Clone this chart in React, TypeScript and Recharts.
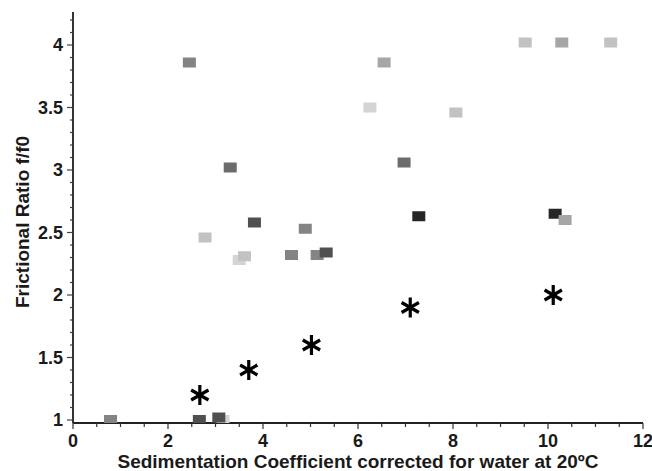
import React from "react";
import { ScatterChart, Scatter, XAxis, YAxis } from "recharts";

// f/f0 vs s20,w — squares grouped by shade, asterisks for the model series
const lightest = [
  { s: 6.25, f: 3.5 },
  { s: 3.5, f: 2.28 },
  { s: 3.16, f: 1.0 },
];
const medium = [
  { s: 2.45, f: 3.86 },
  { s: 4.89, f: 2.53 },
  { s: 4.6, f: 2.32 },
  { s: 5.14, f: 2.32 },
  { s: 0.79, f: 1.0 },
];
const mediumDark = [
  { s: 3.31, f: 3.02 },
  { s: 6.97, f: 3.06 },
];
const dark = [
  { s: 3.82, f: 2.58 },
  { s: 2.66, f: 1.0 },
  { s: 3.07, f: 1.02 },
  { s: 5.33, f: 2.34 },
];
const darkest = [
  { s: 7.28, f: 2.63 },
  { s: 10.15, f: 2.65 },
];
const mediumLight = [
  { s: 6.55, f: 3.86 },
  { s: 10.29, f: 4.02 },
  { s: 10.36, f: 2.6 },
];
const light = [
  { s: 9.52, f: 4.02 },
  { s: 11.32, f: 4.02 },
  { s: 8.06, f: 3.46 },
  { s: 3.61, f: 2.31 },
  { s: 2.78, f: 2.46 },
];
const stars = [
  { s: 2.67, f: 1.2 },
  { s: 3.7, f: 1.4 },
  { s: 5.02, f: 1.6 },
  { s: 7.1, f: 1.9 },
  { s: 10.11, f: 2.0 },
];

const xTicks = [
  0, 0.5, 1, 1.5, 2, 2.5, 3, 3.5, 4, 4.5, 5, 5.5, 6, 6.5, 7, 7.5, 8, 8.5, 9,
  9.5, 10, 10.5, 11, 11.5, 12,
];
const xMajor = [0, 2, 4, 6, 8, 10, 12];
const yTicks = [
  1.0, 1.1, 1.2, 1.3, 1.4, 1.5, 1.6, 1.7, 1.8, 1.9, 2.0, 2.1, 2.2, 2.3, 2.4,
  2.5, 2.6, 2.7, 2.8, 2.9, 3.0, 3.1, 3.2, 3.3, 3.4, 3.5, 3.6, 3.7, 3.8, 3.9,
  4.0, 4.1, 4.2,
];
const yMajor = [1, 1.5, 2, 2.5, 3, 3.5, 4];

const FONT = "'Liberation Sans', Arial, sans-serif";
const isMajor = (list: number[], v: number) =>
  list.some((m) => Math.abs(m - v) < 1e-6);

const XTick = (props: any) => {
  const { x, y, payload } = props;
  const major = isMajor(xMajor, payload.value);
  return (
    <g>
      <line x1={x} y1={y} x2={x} y2={y + (major ? 6 : 4)} stroke="#333" strokeWidth={1.2} />
      {major && (
        <text
          x={x}
          y={y + 18}
          textAnchor="middle"
          dominantBaseline="central"
          fontFamily={FONT}
          fontWeight="bold"
          fontSize={18}
          fill="#1a1a1a"
        >
          {payload.value}
        </text>
      )}
    </g>
  );
};

const YTick = (props: any) => {
  const { x, y, payload } = props;
  const major = isMajor(yMajor, payload.value);
  return (
    <g>
      <line x1={x} y1={y} x2={x - (major ? 6 : 3)} y2={y} stroke="#444" strokeWidth={1.2} />
      {major && (
        <text
          x={x - 10}
          y={y}
          textAnchor="end"
          dominantBaseline="central"
          fontFamily={FONT}
          fontWeight="bold"
          fontSize={18}
          fill="#1a1a1a"
        >
          {Number(payload.value.toFixed(1)) % 1 === 0
            ? Math.round(payload.value)
            : payload.value}
        </text>
      )}
    </g>
  );
};

const square = (color: string) => (props: any) => (
  <rect
    x={props.cx - 6.5}
    y={props.cy - 5}
    width={13}
    height={10}
    fill={color}
  />
);

const asterisk = (props: any) => {
  const { cx, cy } = props;
  const r = 10;
  const a = (Math.PI / 180) * 30;
  const dx = r * Math.cos(a);
  const dy = r * Math.sin(a);
  return (
    <g stroke="#000" strokeWidth={3.2}>
      <line x1={cx} y1={cy - r} x2={cx} y2={cy + r} />
      <line x1={cx - dx} y1={cy - dy} x2={cx + dx} y2={cy + dy} />
      <line x1={cx - dx} y1={cy + dy} x2={cx + dx} y2={cy - dy} />
    </g>
  );
};

export default function App() {
  return (
    <div
      style={{
        position: "absolute",
        left: 0,
        top: 0,
        width: 652,
        height: 471,
        background: "#fff",
      }}
    >
      <ScatterChart
        width={652}
        height={471}
        margin={{ top: 12, right: 9, bottom: 0, left: 0 }}
      >
        <XAxis
          type="number"
          dataKey="s"
          domain={[0, 12]}
          ticks={xTicks}
          interval={0}
          height={48}
          tickSize={0}
          tickMargin={0}
          tick={<XTick />}
          axisLine={{ stroke: "#222", strokeWidth: 2 }}
          allowDataOverflow
        />
        <YAxis
          type="number"
          dataKey="f"
          domain={[0.976, 4.264]}
          ticks={yTicks}
          interval={0}
          width={73}
          tickSize={0}
          tickMargin={0}
          tick={<YTick />}
          axisLine={{ stroke: "#333", strokeWidth: 2 }}
          allowDataOverflow
        />
        <XAxis
          xAxisId="top"
          orientation="top"
          type="number"
          domain={[0, 12]}
          height={0}
          tick={false}
          tickLine={false}
          axisLine={{ stroke: "#111", strokeWidth: 2 }}
        />
        <YAxis
          yAxisId="right"
          orientation="right"
          type="number"
          domain={[0.976, 4.264]}
          width={0}
          tick={false}
          tickLine={false}
          axisLine={{ stroke: "#222", strokeWidth: 1.5 }}
        />
        <Scatter data={lightest} shape={square("#d4d4d4")} isAnimationActive={false} />
        <Scatter data={medium} shape={square("#848484")} isAnimationActive={false} />
        <Scatter data={mediumDark} shape={square("#6c6c6c")} isAnimationActive={false} />
        <Scatter data={dark} shape={square("#505050")} isAnimationActive={false} />
        <Scatter data={darkest} shape={square("#262626")} isAnimationActive={false} />
        <Scatter data={mediumLight} shape={square("#a6a6a6")} isAnimationActive={false} />
        <Scatter data={light} shape={square("#c2c2c2")} isAnimationActive={false} />
        <Scatter data={stars} shape={asterisk} isAnimationActive={false} />
      </ScatterChart>
      <div
        style={{
          position: "absolute",
          left: 73,
          width: 570,
          top: 452,
          textAlign: "center",
          fontFamily: FONT,
          fontWeight: "bold",
          fontSize: 19,
          lineHeight: "19px",
          color: "#1a1a1a",
          whiteSpace: "nowrap",
        }}
      >
        Sedimentation Coefficient corrected for water at 20ºC
      </div>
      <div
        style={{
          position: "absolute",
          left: 22,
          top: 222,
          transform: "translate(-50%, -50%) rotate(-90deg)",
          fontFamily: FONT,
          fontWeight: "bold",
          fontSize: 19,
          lineHeight: "19px",
          color: "#1a1a1a",
          whiteSpace: "nowrap",
        }}
      >
        Frictional Ratio f/f0
      </div>
    </div>
  );
}
